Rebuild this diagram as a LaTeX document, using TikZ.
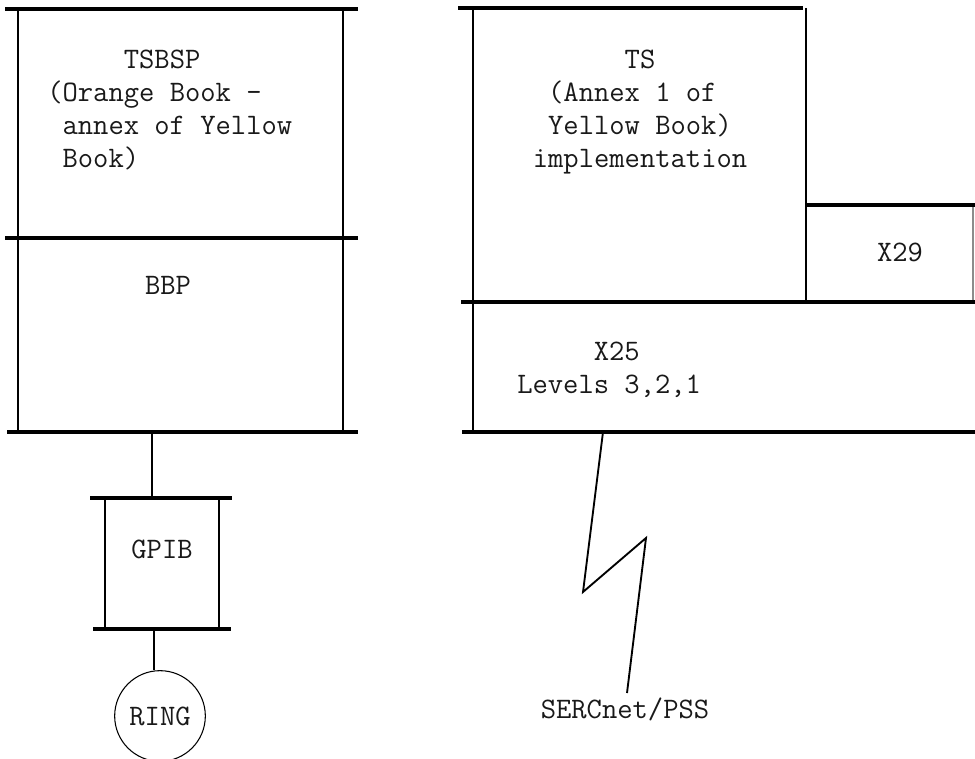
\documentclass[tikz,border=0pt]{standalone}
\usepackage{fontspec}
\usetikzlibrary{calc}

\tikzset{
  rail/.style={line width=2.4pt},
  side/.style={line width=1pt},
  link/.style={line width=1.1pt},
  layer/.style={font=\ttfamily\fontsize{22.3}{24.75}\selectfont, inner sep=0pt, text=black!90},
}

\begin{document}
\begin{tikzpicture}[x=0.75pt,y=-0.75pt]
  \useasboundingbox (0,0) rectangle (975,759);

  % left stack: TSBSP over BBP
  \draw[side] (18,9) -- (18,432) (343,9) -- (343,432);
  \draw[rail] (5,9) -- (358,9) (5,238) -- (358,238) (7,432) -- (358,432);
  \node[layer, anchor=north west, align=left] (tsbsp) at (47,50)
    {\hphantom{00000}TSBSP\\(Orange Book -\\\hphantom{0}annex of Yellow\\\hphantom{0}Book)};
  \node[layer, anchor=base] (bbp) at (168,295) {BBP};

  % GPIB interface and the ring
  \draw[side] (105,498) -- (105,629) (219,498) -- (219,629);
  \draw[rail] (90,498) -- (232,498) (93,629) -- (231,629);
  \node[layer, anchor=base] (gpib) at (162,558) {GPIB};
  \node[layer, draw, circle, line width=0.8pt, minimum size=68pt] (ring) at (160,716) {RING};

  \coordinate (bbpfoot) at (152,432);
  \coordinate (gpibhead) at (152,498);
  \coordinate (gpibfoot) at (154,629);
  \draw[link] (bbpfoot) -- (gpibhead);
  \draw[link] (gpibfoot) -- (gpibfoot |- ring.north);

  % right stack: TS and X29 over X25
  \draw[side] (473,8) -- (473,432) (806,8) -- (806,302);
  \draw[side, black!45] (973,205) -- (973,302);
  \draw[rail] (458,8) -- (803,8) (806,205) -- (975,205) (461,302) -- (975,302) (462,432) -- (975,432);
  \node[layer, anchor=north, align=center] (ts) at (640,50)
    {TS\\(Annex 1 of\hphantom{0}\\Yellow Book)\\implementation};
  \node[layer, anchor=base] (xtwonine) at (900,262) {X29};
  \node[layer, anchor=north west, align=left] (xtwofive) at (517,342)
    {\hphantom{00000}X25\\Levels 3,2,1};

  % link to the network
  \node[layer, anchor=base] (sercnet) at (625,718) {SERCnet/PSS};
  \coordinate (xtwofivefoot) at (603,432);
  \coordinate (boltend) at (627,693);
  \draw[line width=1.4pt, line join=miter] (xtwofivefoot) -- (583,592) -- (646,538) -- (boltend);
\end{tikzpicture}
\end{document}
